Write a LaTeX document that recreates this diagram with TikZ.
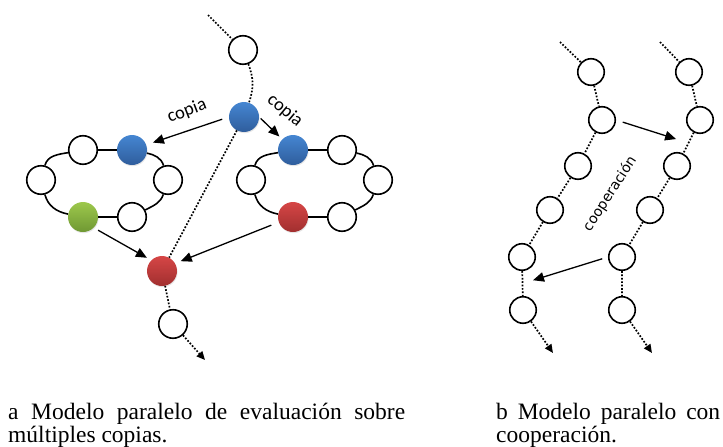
\documentclass[tikz,border=0pt]{standalone}
\usepackage{fontspec}
\setmainfont{Liberation Serif}
\newfontfamily\copiafont{Carlito}
\newfontfamily\coopfont{DejaVu Sans}
\usepackage{tikz}
\usetikzlibrary{arrows.meta, calc, shadows}
\definecolor{azularriba}{HTML}{4586D2}
\definecolor{azulabajo}{HTML}{2F5D9C}
\definecolor{verdearriba}{HTML}{9DC84C}
\definecolor{verdeabajo}{HTML}{6F9833}
\definecolor{rojoarriba}{HTML}{D64646}
\definecolor{rojoabajo}{HTML}{A12F2F}

\begin{document}
\begin{tikzpicture}[x=1pt, y=-1pt,
    hoja/.style={circle, draw=black, fill=white, line width=1.6pt, minimum size=#1, inner sep=0pt},
    hoja/.default=28.5pt,
    bola/.style 2 args={circle, inner sep=0pt, minimum size=30pt, top color=#1, bottom color=#2,
        drop shadow={opacity=0.2, shadow xshift=0.6pt, shadow yshift=-1.2pt}},
    anillo/.style={line width=1.6pt},
    punteado/.style={line width=1.7pt, dash pattern=on 1.7pt off 1.7pt},
    flecha/.style={line width=1.3pt, -{Triangle[length=11pt, width=9.5pt]}},
    rotulo/.style={font=\copiafont\fontsize{18.5}{18.5}\selectfont},
    pie/.style={anchor=base west, inner sep=0pt, font=\fontsize{23.5}{23.5}\selectfont}
]
\useasboundingbox (0,0) rectangle (723,447);

% a) copias: camino principal
\coordinate (ini) at (208,15);
\node[hoja] (t1) at (243,50) {};
\node[bola={azularriba}{azulabajo}] (src) at (244,117) {};
\node[bola={rojoarriba}{rojoabajo}] (m) at (162,271) {};
\node[hoja] (n) at (173,324) {};
\coordinate (fin) at (205,360);

% anillo izquierdo
\node[hoja] (l1) at (83,150) {};
\node[bola={azularriba}{azulabajo}] (l2) at (132,150) {};
\node[hoja] (l3) at (168,180) {};
\node[hoja] (l4) at (132,217) {};
\node[bola={verdearriba}{verdeabajo}] (l5) at (83,217) {};
\node[hoja] (l6) at (41,180) {};

% anillo derecho
\node[bola={azularriba}{azulabajo}] (r1) at (293,150) {};
\node[hoja] (r2) at (342,150) {};
\node[hoja] (r3) at (378,180) {};
\node[hoja] (r4) at (342,217) {};
\node[bola={rojoarriba}{rojoabajo}] (r5) at (293,217) {};
\node[hoja] (r6) at (251,180) {};

\foreach \p in {l,r}
    \draw[anillo] (\p1) -- (\p2) to[out=-12, in=107] (\p3) to[out=-108, in=28] (\p4)
        -- (\p5) to[out=169, in=-75] (\p6) to[out=75, in=190] (\p1);

\draw[punteado] (ini) -- (t1);
\draw[punteado] (t1) to[bend left=20] (src);
\draw[punteado] (src) -- (m);
\draw[punteado] (m) -- (n);
\draw[punteado, -{Triangle[length=8.5pt, width=7.5pt]}] (n) -- (fin);

% copias y regreso
\draw[flecha, shorten <=7pt, shorten >=7pt] (src.west) -- (l2.20);
\draw[flecha, shorten <=2pt, shorten >=4pt] (src.east) -- (r1.north west);
\draw[flecha, shorten <=5pt, shorten >=5pt] (l5.south east) -- (m.north west);
\draw[flecha, shorten <=8pt, shorten >=6pt] (r5.200) -- (m.30);
\node[rotulo, rotate=21] (cp1) at (187,111) {copia};
\node[rotulo, rotate=-40] (cp2) at (285,111) {copia};

% b) cooperacion: dos cadenas
\coordinate (ia) at (560,42);
\node[hoja=26.5pt] (a1) at (591,72) {};
\node[hoja=26.5pt] (a2) at (602,120) {};
\node[hoja=26.5pt] (a3) at (578,166) {};
\node[hoja=26.5pt] (a4) at (550,210) {};
\node[hoja=26.5pt] (a5) at (522,257) {};
\node[hoja=26.5pt] (a6) at (523,310) {};
\coordinate (fa) at (553,353);

\coordinate (ib) at (660,42);
\node[hoja=26.5pt] (b1) at (689,72) {};
\node[hoja=26.5pt] (b2) at (700,120) {};
\node[hoja=26.5pt] (b3) at (677,166) {};
\node[hoja=26.5pt] (b4) at (650,210) {};
\node[hoja=26.5pt] (b5) at (622,257) {};
\node[hoja=26.5pt] (b6) at (622,310) {};
\coordinate (fb) at (652,353);

\draw[punteado] (ia) -- (a1) -- (a2) -- (a3) -- (a4) -- (a5) -- (a6);
\draw[punteado, -{Triangle[length=8.5pt, width=7.5pt]}] (a6) -- (fa);
\draw[punteado] (ib) -- (b1) -- (b2) -- (b3) -- (b4) -- (b5) -- (b6);
\draw[punteado, -{Triangle[length=8.5pt, width=7.5pt]}] (b6) -- (fb);

\coordinate (ab) at ($(b2)!0.5!(b3)$);
\coordinate (ba) at ($(a5)!0.5!(a6)$);
\draw[flecha, shorten <=7pt, shorten >=13pt] (a2.east) -- (ab);
\draw[flecha, shorten <=6pt, shorten >=11pt] (b5.west) -- (ba);
\node[font=\coopfont\fontsize{14}{14}\selectfont, rotate=57] (coop) at (610,194) {cooperación};

% pies
\node[pie] (pa1) at (8,419) {\makebox[397pt][s]{a\ Modelo paralelo de evaluación sobre}};
\node[pie] (pa2) at (8,442) {múltiples copias.};
\node[pie] (pb1) at (496,419) {\makebox[224pt][s]{b\ Modelo paralelo con}};
\node[pie] (pb2) at (496,442) {cooperación.};
\end{tikzpicture}
\end{document}
